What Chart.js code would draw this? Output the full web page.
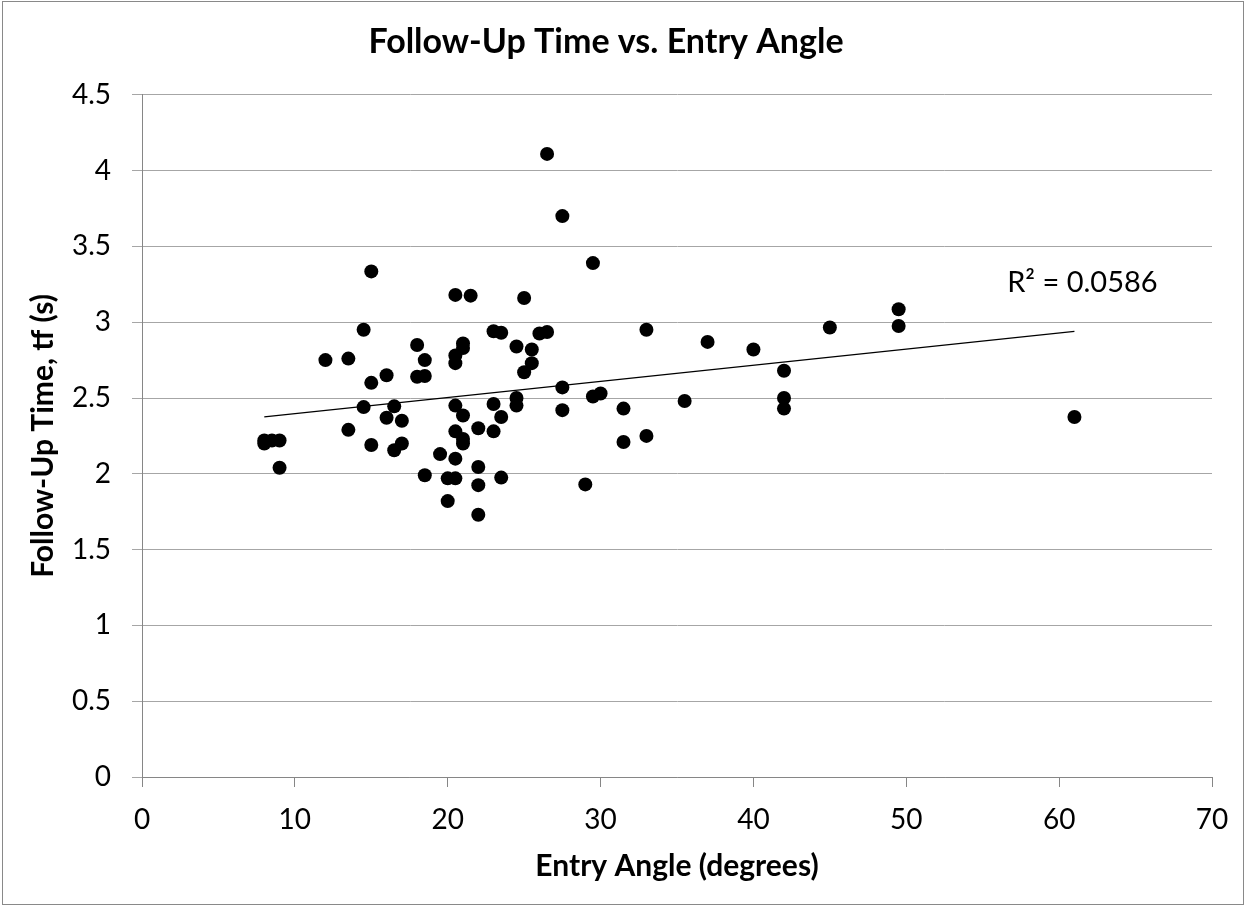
<!DOCTYPE html>
<html>
<head>
<meta charset="utf-8">
<script src="https://cdn.jsdelivr.net/npm/chart.js@4"></script>
<style>
  html, body { margin: 0; padding: 0; background: #fff; }
  #wrap { position: absolute; left: 0; top: 0; width: 1247px; height: 907px; }
</style>
</head>
<body>
<div id="wrap"><canvas id="myChart"></canvas></div>
<script>
// entry angle (degrees)
var angle = [8, 8, 8.5, 9, 9, 12, 13.5, 13.5, 14.5, 14.5, 15, 15, 15, 16, 16, 16.5, 16.5, 17, 17,
  18, 18, 18.5, 18.5, 18.5, 19.5, 20, 20, 20.5, 20.5, 20.5, 20.5, 20.5, 20.5, 20.5,
  21, 21, 21, 21, 21, 21.5, 22, 22, 22, 22, 23, 23, 23, 23.5, 23.5, 23.5,
  24.5, 24.5, 24.5, 25, 25, 25.5, 25.5, 26, 26.5, 26.5, 27.5, 27.5, 27.5, 29, 29.5, 29.5, 30,
  31.5, 31.5, 33, 33, 35.5, 37, 40, 42, 42, 42, 45, 49.5, 49.5, 61];
// follow-up time (s)
var followUp = [2.22, 2.20, 2.22, 2.22, 2.04, 2.75, 2.76, 2.29, 2.95, 2.44, 3.335, 2.60, 2.19, 2.65, 2.37, 2.445, 2.155, 2.35, 2.20,
  2.85, 2.64, 2.75, 2.645, 1.99, 2.13, 1.97, 1.82, 3.18, 2.78, 2.73, 2.45, 2.28, 2.10, 1.97,
  2.86, 2.83, 2.385, 2.23, 2.20, 3.175, 2.30, 2.045, 1.925, 1.73, 2.94, 2.46, 2.28, 2.93, 2.375, 1.975,
  2.84, 2.50, 2.45, 3.16, 2.67, 2.82, 2.73, 2.925, 4.11, 2.935, 3.70, 2.57, 2.42, 1.93, 3.39, 2.51, 2.53,
  2.43, 2.21, 2.95, 2.25, 2.48, 2.87, 2.82, 2.68, 2.50, 2.43, 2.965, 3.085, 2.975, 2.375];

// linear trendline ends
var trendX = [8, 61];
var trendY = [2.375, 2.94];
var rSquared = 'R² = 0.0586';

var points = angle.map(function (a, i) { return { x: a, y: followUp[i] }; });
var trend = trendX.map(function (a, i) { return { x: a, y: trendY[i] }; });

var FONT = 'Lato, "Open Sans", sans-serif';

var extras = {
  id: 'extras',
  afterDraw: function (chart) {
    var c = chart.ctx;
    c.save();
    // outer frame
    c.strokeStyle = '#898989';
    c.lineWidth = 1;
    c.strokeRect(2.5, 1.5, 1241, 903);
    // R² label
    var xs = chart.scales.x, ys = chart.scales.y;
    c.fillStyle = '#000';
    c.font = '29px ' + FONT;
    c.textBaseline = 'middle';
    c.textAlign = 'left';
    c.fillText(rSquared, xs.getPixelForValue(56.6), ys.getPixelForValue(3.26));
    c.restore();
  }
};

var ctx = document.getElementById('myChart').getContext('2d');
var myChart = new Chart(ctx, {
  type: 'scatter',
  data: {
    datasets: [{
      label: 'Follow-up time',
      data: points,
      backgroundColor: '#000',
      borderColor: '#000',
      pointRadius: 7,
      pointBorderWidth: 0
    }, {
      label: 'Trend',
      type: 'line',
      data: trend,
      borderColor: '#000',
      borderWidth: 1.3,
      pointRadius: 0,
      fill: false
    }]
  },
  options: {
    responsive: true,
    maintainAspectRatio: false,
    animation: false,
    layout: { padding: { left: 0, right: 35, top: 0, bottom: 0 } },
    plugins: {
      legend: { display: false },
      tooltip: { enabled: false },
      title: {
        display: true,
        text: 'Follow-Up Time vs. Entry Angle',
        color: '#000',
        font: { family: FONT, size: 34, weight: 'bold', lineHeight: 1.2 },
        padding: { top: 22, bottom: 32 }
      }
    },
    scales: {
      x: {
        type: 'linear',
        min: 0, max: 70,
        afterFit: function (s) { s.height = 130; },
        ticks: { stepSize: 10, color: '#000', font: { family: FONT, size: 28 }, padding: 16 },
        grid: { drawOnChartArea: false, tickLength: 10, color: '#868686' },
        border: { color: '#868686' },
        title: {
          display: true,
          text: 'Entry Angle (degrees)',
          color: '#000',
          font: { family: FONT, size: 30, weight: 'bold', lineHeight: 1.2 },
          padding: { top: 0, bottom: 23 }
        }
      },
      y: {
        min: 0, max: 4.5,
        afterFit: function (s) { s.width = 142; },
        ticks: {
          stepSize: 0.5, color: '#000', font: { family: FONT, size: 28 }, padding: 21,
          callback: function (v) { return String(v); }
        },
        grid: { color: '#a6a6a6', tickLength: 10 },
        border: { color: '#868686' },
        title: {
          display: true,
          text: 'Follow-Up Time, tf (s)',
          color: '#000',
          font: { family: FONT, size: 30, weight: 'bold', lineHeight: 1.2 },
          padding: { top: 25, bottom: 0 }
        }
      }
    }
  },
  plugins: [extras]
});
</script>
</body>
</html>
